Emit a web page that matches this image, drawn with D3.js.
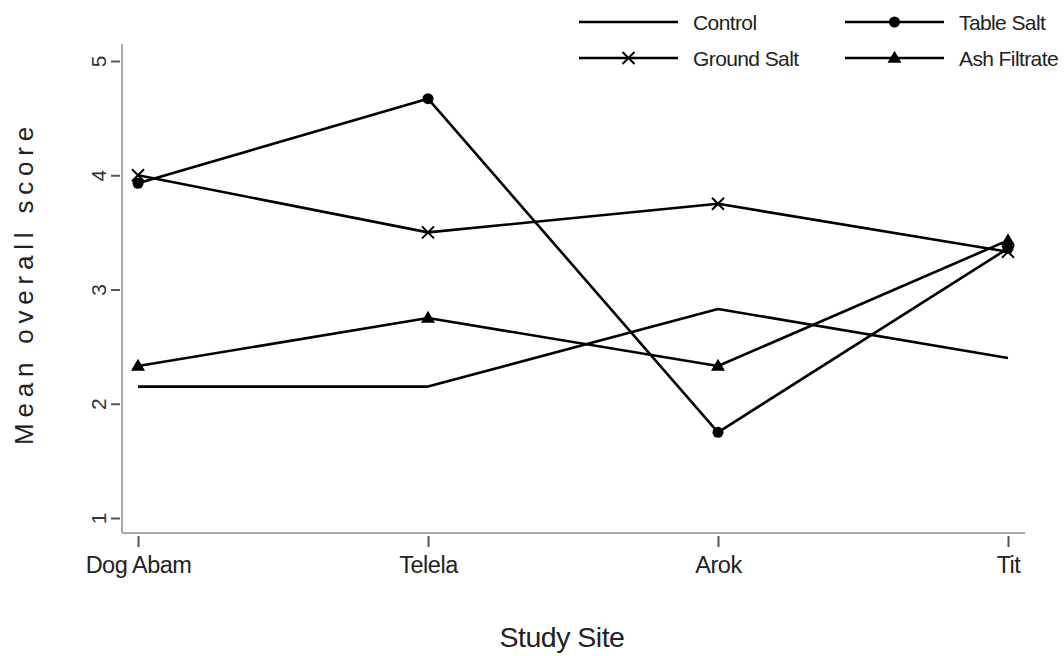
<!DOCTYPE html>
<html>
<head>
<meta charset="utf-8">
<script src="https://cdn.jsdelivr.net/npm/d3@7"></script>
<style>
  html, body { margin: 0; padding: 0; background: #fff; }
  svg { display: block; font-family: "Liberation Sans", Arial, sans-serif; }
</style>
</head>
<body>
<svg id="chart" width="1064" height="656"></svg>
<script>
// ---- data ----
const sites = ["Dog Abam", "Telela", "Arok", "Tit"];
const control     = [2.15, 2.15, 2.83, 2.40];
const tableSalt   = [3.93, 4.67, 1.75, 3.36];
const groundSalt  = [4.00, 3.50, 3.75, 3.33];
const ashFiltrate = [2.33, 2.75, 2.33, 3.43];
const yTicks = [1, 2, 3, 4, 5];
const seriesNames = ["Control", "Table Salt", "Ground Salt", "Ash Filtrate"];
const seriesMarkers = ["none", "circle", "cross", "triangle"];

const series = [
  { name: seriesNames[0], values: control,     marker: seriesMarkers[0] },
  { name: seriesNames[1], values: tableSalt,   marker: seriesMarkers[1] },
  { name: seriesNames[2], values: groundSalt,  marker: seriesMarkers[2] },
  { name: seriesNames[3], values: ashFiltrate, marker: seriesMarkers[3] }
];

const svg = d3.select("#chart");
const x = d3.scalePoint().domain(sites).range([138, 1008]);
const y = d3.scaleLinear().domain([1, 5]).range([518, 61]);

const axisLeftX = 122, axisBottomY = 533;

// axis lines
svg.append("line").attr("x1", axisLeftX).attr("x2", axisLeftX)
  .attr("y1", 44).attr("y2", axisBottomY)
  .attr("stroke", "#aaa").attr("stroke-width", 2);
svg.append("line").attr("x1", axisLeftX).attr("x2", 1025)
  .attr("y1", axisBottomY).attr("y2", axisBottomY)
  .attr("stroke", "#aaa").attr("stroke-width", 2);

// y axis ticks
const yAxis = d3.axisLeft(y).tickValues(yTicks).tickSize(9).tickPadding(8).tickFormat(d3.format("d"));
const yg = svg.append("g").attr("transform", `translate(${axisLeftX - 2},0)`).call(yAxis);
yg.select(".domain").remove();
yg.selectAll(".tick line").attr("stroke", "#555").attr("stroke-width", 2);
yg.selectAll(".tick text")
  .attr("font-size", 21).attr("fill", "#333")
  .attr("x", null).attr("dy", null)
  .attr("text-anchor", "middle")
  .attr("transform", "translate(-22,0) rotate(-90) translate(0,7.5)");

// x axis ticks
const xAxis = d3.axisBottom(x).tickSize(11).tickPadding(9);
const xg = svg.append("g").attr("transform", `translate(0,${axisBottomY + 3})`).call(xAxis);
xg.select(".domain").remove();
xg.selectAll(".tick line").attr("stroke", "#555").attr("stroke-width", 2);
xg.selectAll(".tick text").attr("font-size", 23.5).attr("fill", "#222").attr("letter-spacing", "-0.5px");

// axis titles
svg.append("text").attr("x", 562).attr("y", 647)
  .attr("text-anchor", "middle").attr("font-size", 28.5).attr("fill", "#222")
  .attr("letter-spacing", "-0.5px")
  .text("Study Site");
svg.append("text")
  .attr("transform", "translate(33,283) rotate(-90)")
  .attr("text-anchor", "middle").attr("font-size", 26).attr("fill", "#222")
  .attr("letter-spacing", "5.8px")
  .text("Mean overall score");

// lines
const line = d3.line().x((d, i) => x(sites[i])).y(d => y(d));
svg.append("g").selectAll("path").data(series).join("path")
  .attr("d", d => line(d.values))
  .attr("fill", "none").attr("stroke", "#000").attr("stroke-width", 2.6)
  .attr("stroke-linejoin", "round");

function drawMarker(g, type, cx, cy) {
  if (type === "circle") {
    g.append("circle").attr("cx", cx).attr("cy", cy).attr("r", 5.5).attr("fill", "#000");
  } else if (type === "cross") {
    const s = 6;
    g.append("path").attr("d", `M${cx - s},${cy - s}L${cx + s},${cy + s}M${cx - s},${cy + s}L${cx + s},${cy - s}`)
      .attr("stroke", "#000").attr("stroke-width", 2).attr("fill", "none");
  } else if (type === "triangle") {
    const h = 12, w = 14;
    g.append("path").attr("d", `M${cx},${cy - h * 0.6}L${cx + w / 2},${cy + h * 0.4}L${cx - w / 2},${cy + h * 0.4}Z`)
      .attr("fill", "#000");
  }
}

// markers
const mg = svg.append("g");
series.forEach(s => {
  if (s.marker === "none") return;
  s.values.forEach((v, i) => drawMarker(mg, s.marker, x(sites[i]), y(v)));
});

// legend
const legendPos = [
  { x1: 579, y: 22 }, { x1: 845, y: 22 },
  { x1: 579, y: 58 }, { x1: 845, y: 58 }
];
const lg = svg.append("g");
series.forEach((s, i) => {
  const p = legendPos[i];
  lg.append("line").attr("x1", p.x1).attr("x2", p.x1 + 99)
    .attr("y1", p.y).attr("y2", p.y).attr("stroke", "#000").attr("stroke-width", 2.6);
  drawMarker(lg, s.marker, p.x1 + 49.5, p.y);
  lg.append("text").attr("x", p.x1 + 114).attr("y", p.y + 7.5)
    .attr("font-size", 21).attr("fill", "#222").attr("letter-spacing", "-0.6px")
    .text(s.name);
});
</script>
</body>
</html>
